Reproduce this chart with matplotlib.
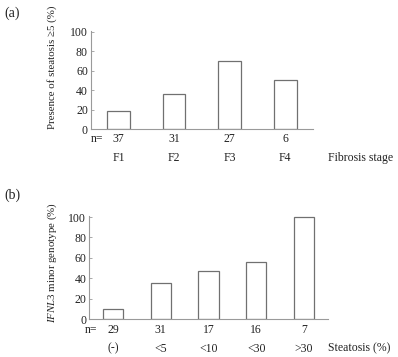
import matplotlib
matplotlib.use("Agg")
import matplotlib.pyplot as plt

# ---- data ----
fib_cats = ["F1", "F2", "F3", "F4"]
fib_n = [37, 31, 27, 6]
fib_vals = [19, 36, 70, 50]

ste_cats = ["(-)", "<5", "<10", "<30", ">30"]
ste_n = [29, 31, 17, 16, 7]
ste_vals = [10, 35, 47, 56, 100]

yticks = [0, 20, 40, 60, 80, 100]

plt.rcParams['font.family'] = ['Liberation Serif', 'DejaVu Serif']
plt.rcParams['mathtext.fontset'] = 'custom'
plt.rcParams['mathtext.rm'] = 'Liberation Serif'
plt.rcParams['mathtext.it'] = 'Liberation Serif:italic'

W, H = 398, 357
fig = plt.figure(figsize=(W / 100, H / 100), dpi=100)

FS = 8.5
FSY = 7.8
SPINE = '#9a9a9a'
EDGE = '#707070'
TXT = '#222222'


def px_axes(x0, x1, ytop, ybot):
    return fig.add_axes([x0 / W, (H - ybot) / H, (x1 - x0) / W, (ybot - ytop) / H])


def style(ax):
    for s in ['top', 'right']:
        ax.spines[s].set_visible(False)
    for s in ['left', 'bottom']:
        ax.spines[s].set_color(SPINE)
        ax.spines[s].set_linewidth(0.8)
    ax.set_yticks(yticks)
    ax.tick_params(axis='y', direction='in', length=2, width=0.6, color=SPINE,
                   labelsize=FS, labelcolor=TXT, pad=2)
    ax.tick_params(axis='x', length=0, labelbottom=False)


def px2y(ax, ypx):
    bb = ax.get_position()
    yf = (H - ypx) / H
    return (yf - bb.y0) / bb.height


def px2x(ax, xpx):
    bb = ax.get_position()
    return (xpx / W - bb.x0) / bb.width


# ---- panel (a) ----
axa = px_axes(90.7, 313, 31, 129)
xs = list(range(len(fib_cats)))
axa.bar(xs, fib_vals, width=0.41, facecolor='white', edgecolor=EDGE, linewidth=0.9)
axa.set_xlim(-0.5, len(fib_cats) - 0.5)
axa.set_ylim(0, 101)
style(axa)
fig.text(52 / W, (H - 67) / H, "Presence of steatosis \u22655 (%)", rotation=90,
         fontsize=FSY, color=TXT, ha='center', va='center')
ya_n = px2y(axa, 138.5)
ya_c = px2y(axa, 158)
for x, n, c in zip(xs, fib_n, fib_cats):
    axa.text(x, ya_n, str(n), transform=axa.get_xaxis_transform(), ha='center', va='center',
             fontsize=FS, color=TXT)
    axa.text(x, ya_c, c, transform=axa.get_xaxis_transform(), ha='center', va='center',
             fontsize=FS, color=TXT)
axa.text(px2x(axa, 97), ya_n, "n=", transform=axa.transAxes, ha='center', va='center',
         fontsize=FS, color=TXT)
axa.text(px2x(axa, 328), ya_c, "Fibrosis stage", transform=axa.transAxes, ha='left',
         va='center', fontsize=FS, color=TXT)
fig.text(4 / W, (H - 13) / H, "(a)", fontsize=10, color=TXT, va='center', ha='left')

# ---- panel (b) ----
axb = px_axes(89, 328, 216, 319)
xs = list(range(len(ste_cats)))
axb.bar(xs, ste_vals, width=0.42, facecolor='white', edgecolor=EDGE, linewidth=0.9)
axb.set_xlim(-0.5, len(ste_cats) - 0.5)
axb.set_ylim(0, 101)
style(axb)
fig.text(52 / W, (H - 263) / H, r"$\it{IFNL3}$ minor genotype (%)", rotation=90,
         fontsize=FSY, color=TXT, ha='center', va='center')
yb_n = px2y(axb, 330)
yb_c = px2y(axb, 348.5)
for x, n, c in zip(xs, ste_n, ste_cats):
    axb.text(x, yb_n, str(n), transform=axb.get_xaxis_transform(), ha='center', va='center',
             fontsize=FS, color=TXT)
    axb.text(x, yb_c, c, transform=axb.get_xaxis_transform(), ha='center', va='center',
             fontsize=FS, color=TXT)
axb.text(px2x(axb, 91), yb_n, "n=", transform=axb.transAxes, ha='center', va='center',
         fontsize=FS, color=TXT)
axb.text(px2x(axb, 328), yb_c, "Steatosis (%)", transform=axb.transAxes, ha='left',
         va='center', fontsize=FS, color=TXT)
fig.text(4 / W, (H - 195) / H, "(b)", fontsize=10, color=TXT, va='center', ha='left')

fig.savefig("out.png", dpi=100)
